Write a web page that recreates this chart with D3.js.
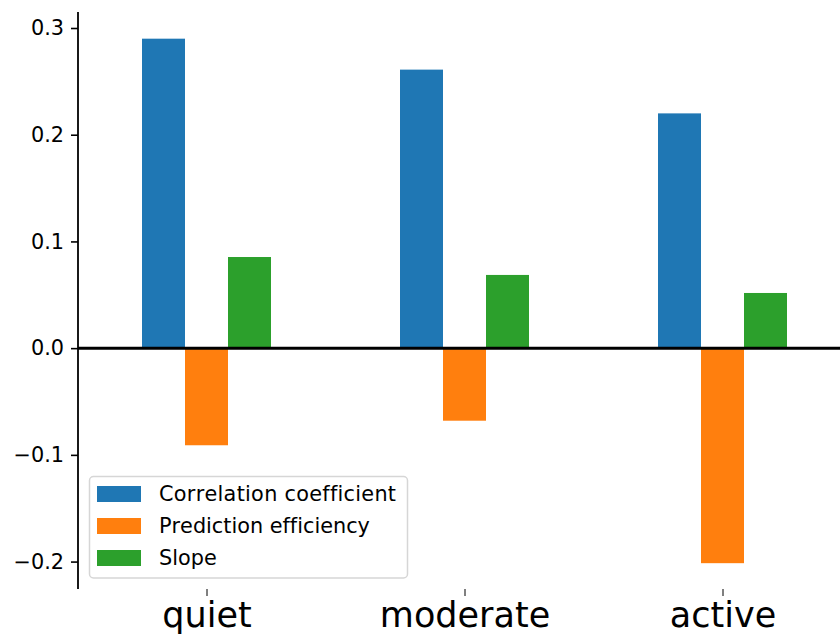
<!DOCTYPE html>
<html>
<head>
<meta charset="utf-8">
<script src="https://cdn.jsdelivr.net/npm/d3@7"></script>
<style>
  html, body { margin: 0; padding: 0; background: #fff; }
  svg { display: block; font-family: "DejaVu Sans", sans-serif; }
  svg text { font-variant-ligatures: none; font-kerning: none; }
</style>
</head>
<body>
<svg id="chart" width="840" height="639"></svg>
<script>
// Activity levels and the three metrics per level
const categories = ["quiet", "moderate", "active"];
const seriesNames = ["Correlation coefficient", "Prediction efficiency", "Slope"];
const correlation = [0.29, 0.261, 0.22];
const prediction = [-0.091, -0.068, -0.2015];
const slope = [0.0854, 0.0686, 0.0517];
const colors = ["#1f77b4", "#ff7f0e", "#2ca02c"];
const yTicks = [-0.2, -0.1, 0.0, 0.1, 0.2, 0.3];

const series = [correlation, prediction, slope];

const svg = d3.select("#chart");

const plotTop = 12, plotBottom = 589, plotLeft = 78, plotRight = 840;

const y = d3.scaleLinear().domain([-0.2257, 0.315]).range([plotBottom, plotTop]);
const x = d3.scaleLinear().domain([0, 2]).range([206.5, 722.5]);
const barW = 43;

// Bars
series.forEach((vals, si) => {
  svg.append("g")
    .selectAll("rect")
    .data(vals)
    .join("rect")
    .attr("x", (d, i) => x(i) + (si - 1) * barW - barW / 2)
    .attr("y", d => y(Math.max(0, d)))
    .attr("width", barW)
    .attr("height", d => Math.abs(y(d) - y(0)))
    .attr("fill", colors[si]);
});

// Zero reference line
svg.append("line")
  .attr("x1", plotLeft).attr("x2", plotRight)
  .attr("y1", y(0)).attr("y2", y(0))
  .attr("stroke", "#000").attr("stroke-width", 3);

// Y axis
const fmt = d => (d < 0 ? "\u2212" : "") + Math.abs(d).toFixed(1);
const yAxis = d3.axisLeft(y).tickValues(yTicks).tickFormat(fmt).tickSize(7).tickPadding(7);
const yg = svg.append("g").attr("transform", `translate(${plotLeft},0)`).call(yAxis);
yg.select(".domain").remove();
yg.selectAll(".tick line").attr("stroke", "#000").attr("stroke-width", 1.6);
yg.selectAll(".tick text").attr("font-size", 20.8).attr("fill", "#000")
  .attr("font-family", "DejaVu Sans");
yg.append("line")
  .attr("x1", 0).attr("x2", 0)
  .attr("y1", plotTop).attr("y2", plotBottom)
  .attr("stroke", "#000").attr("stroke-width", 1.8);

// X axis (spine hidden, ticks and labels only)
const xAxis = d3.axisBottom(x).tickValues([0, 1, 2]).tickFormat(i => categories[i]).tickSize(7).tickPadding(6);
const xg = svg.append("g").attr("transform", `translate(0,${plotBottom})`).call(xAxis);
xg.select(".domain").remove();
xg.selectAll(".tick line").attr("stroke", "#000").attr("stroke-width", 1);
xg.selectAll(".tick text").attr("font-size", 35).attr("fill", "#000")
  .attr("font-family", "DejaVu Sans");

// Legend
const lg = svg.append("g");
lg.append("rect")
  .attr("x", 89.5).attr("y", 476.5)
  .attr("width", 318).attr("height", 101.5)
  .attr("rx", 4).attr("ry", 4)
  .attr("fill", "#fff").attr("fill-opacity", 0.8)
  .attr("stroke", "#d6d6d6").attr("stroke-width", 1.5);
seriesNames.forEach((name, i) => {
  const rowY = 486 + i * 32;
  lg.append("rect")
    .attr("x", 97).attr("y", rowY)
    .attr("width", 44).attr("height", 16)
    .attr("fill", colors[i]);
  lg.append("text")
    .attr("x", 159).attr("y", rowY + 15)
    .attr("font-size", 20.8).attr("fill", "#000")
    .attr("textLength", i === 0 ? 237 : null)
    .text(name);
});
</script>
</body>
</html>
